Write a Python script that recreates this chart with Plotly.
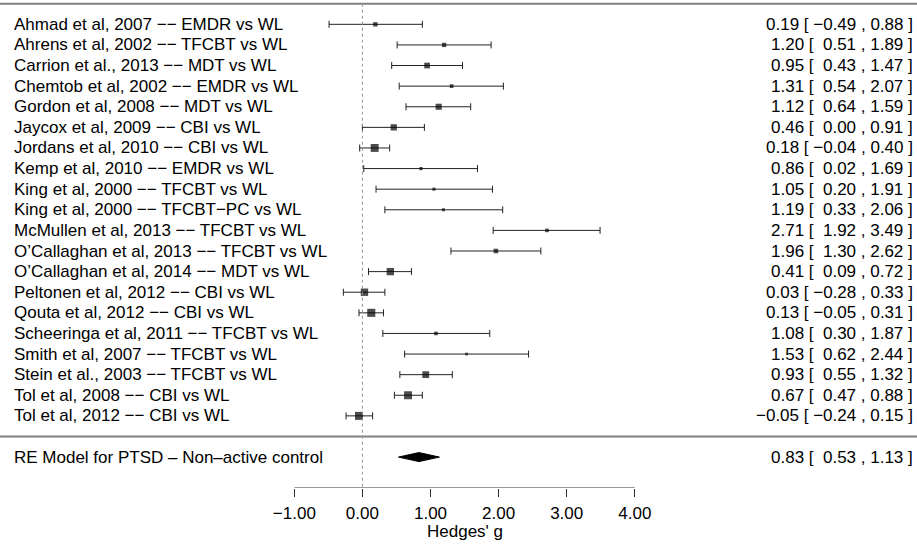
import numpy as np
import plotly.graph_objects as go

D = "\u2212\u2212"
studies = [
    f"Ahmad et al, 2007 {D} EMDR vs WL",
    f"Ahrens et al, 2002 {D} TFCBT vs WL",
    f"Carrion et al., 2013 {D} MDT vs WL",
    f"Chemtob et al, 2002 {D} EMDR vs WL",
    f"Gordon et al, 2008 {D} MDT vs WL",
    f"Jaycox et al, 2009 {D} CBI vs WL",
    f"Jordans et al, 2010 {D} CBI vs WL",
    f"Kemp et al, 2010 {D} EMDR vs WL",
    f"King et al, 2000 {D} TFCBT vs WL",
    f"King et al, 2000 {D} TFCBT\u2212PC vs WL",
    f"McMullen et al, 2013 {D} TFCBT vs WL",
    f"O\u2019Callaghan et al, 2013 {D} TFCBT vs WL",
    f"O\u2019Callaghan et al, 2014 {D} MDT vs WL",
    f"Peltonen et al, 2012 {D} CBI vs WL",
    f"Qouta et al, 2012 {D} CBI vs WL",
    f"Scheeringa et al, 2011 {D} TFCBT vs WL",
    f"Smith et al, 2007 {D} TFCBT vs WL",
    f"Stein et al., 2003 {D} TFCBT vs WL",
    f"Tol et al, 2008 {D} CBI vs WL",
    f"Tol et al, 2012 {D} CBI vs WL",
]
est = [0.19, 1.20, 0.95, 1.31, 1.12, 0.46, 0.18, 0.86, 1.05, 1.19,
       2.71, 1.96, 0.41, 0.03, 0.13, 1.08, 1.53, 0.93, 0.67, -0.05]
ci_lb = [-0.49, 0.51, 0.43, 0.54, 0.64, 0.00, -0.04, 0.02, 0.20, 0.33,
         1.92, 1.30, 0.09, -0.28, -0.05, 0.30, 0.62, 0.55, 0.47, -0.24]
ci_ub = [0.88, 1.89, 1.47, 2.07, 1.59, 0.91, 0.40, 1.69, 1.91, 2.06,
         3.49, 2.62, 0.72, 0.33, 0.31, 1.87, 2.44, 1.32, 0.88, 0.15]
model_label = "RE Model for PTSD \u2013 Non\u2013active control"
model_est, model_lb, model_ub = 0.83, 0.53, 1.13
tick_vals = [-1, 0, 1, 2, 3, 4]
x_title = "Hedges' g"

FONT = "Liberation Sans, Arial, Helvetica, sans-serif"
FS = 17

yi = np.array(est)
lb = np.array(ci_lb)
ub = np.array(ci_ub)
k = len(yi)
rows = np.arange(k, 0, -1)

# marker size from random-effects weights (DerSimonian-Laird), as metafor does
vi = ((ub - lb) / (2 * 1.96)) ** 2
wf = 1 / vi
yf = np.sum(wf * yi) / np.sum(wf)
Q = np.sum(wf * (yi - yf) ** 2)
tau2 = max(0.0, (Q - (k - 1)) / (np.sum(wf) - np.sum(wf ** 2) / np.sum(wf)))
w = 1 / (vi + tau2)
ps = w / w.sum()
ps = (ps - ps.min()) / (ps.max() - ps.min()) + 0.5
msize = ps * 5.4

def fmt(v):
    s = f"{v:.2f}"
    return s.replace("-", "\u2212")

def pad(v):
    return (" " if v >= 0 else "") + fmt(v)

def annot(e, l, u):
    return f"{fmt(e)} [ {pad(l)} , {fmt(u)} ]"

fig = go.Figure()

fig.add_trace(go.Scatter(
    x=yi, y=rows, mode="markers",
    marker=dict(symbol="square", size=msize, color="black", line=dict(width=0)),
    error_x=dict(type="data", symmetric=False, array=ub - yi, arrayminus=yi - lb,
                 width=3.5, thickness=1, color="#222222"),
    hoverinfo="skip", showlegend=False,
))

h = 0.22
fig.add_trace(go.Scatter(
    x=[model_lb, model_est, model_ub, model_est, model_lb],
    y=[-1, -1 + h, -1, -1 - h, -1],
    mode="lines", fill="toself", fillcolor="black",
    line=dict(color="black", width=1), hoverinfo="skip", showlegend=False,
))

xr = [-5.322, 8.144]
px_per = 917 / (xr[1] - xr[0])
x_left = xr[0] + 12 / px_per
x_right = xr[0] + 915 / px_per

for lab, r, e, l, u in zip(studies, rows, est, ci_lb, ci_ub):
    fig.add_annotation(x=x_left, y=r, text=lab, xanchor="left", yanchor="middle",
                       showarrow=False, font=dict(family=FONT, size=FS, color="black"))
    fig.add_annotation(x=x_right, y=r, text=annot(e, l, u), xanchor="right", yanchor="middle",
                       showarrow=False, font=dict(family=FONT, size=FS, color="black"))

fig.add_annotation(x=x_left, y=-1, text=model_label, xanchor="left", yanchor="middle",
                   showarrow=False, font=dict(family=FONT, size=FS, color="black"))
fig.add_annotation(x=x_right, y=-1, text=annot(model_est, model_lb, model_ub),
                   xanchor="right", yanchor="middle",
                   showarrow=False, font=dict(family=FONT, size=FS, color="black"))
fig.add_annotation(x=(tick_vals[0] + tick_vals[-1]) / 2, xref="x",
                   y=1 - 531 / 488, yref="paper", text=x_title,
                   xanchor="center", yanchor="middle", showarrow=False,
                   font=dict(family=FONT, size=FS, color="black"))

# horizontal rules
fig.add_shape(type="line", xref="paper", x0=0, x1=1, yref="y", y0=k + 1, y1=k + 1,
              line=dict(color="#808080", width=2))
fig.add_shape(type="line", xref="paper", x0=0, x1=1, yref="y", y0=0, y1=0,
              line=dict(color="#808080", width=2))
# reference line
fig.add_shape(type="line", x0=0, x1=0, y0=k + 1, y1=-2.5,
              line=dict(color="#909090", width=1, dash="dot"))
# axis line
fig.add_shape(type="line", x0=tick_vals[0], x1=tick_vals[-1], y0=-2.5, y1=-2.5,
              line=dict(color="#333333", width=1))

fig.update_layout(
    width=917, height=547,
    margin=dict(l=0, r=0, t=0, b=59, autoexpand=False),
    paper_bgcolor="white", plot_bgcolor="white",
    font=dict(family=FONT, size=FS, color="black"),
    xaxis=dict(range=xr, showgrid=False, zeroline=False, showline=False,
               tickvals=tick_vals, ticktext=[fmt(v) for v in tick_vals],
               ticks="outside", ticklen=8, tickcolor="#333333", tickwidth=1,
               tickfont=dict(family=FONT, size=FS, color="black"),
               ticklabelstandoff=2, fixedrange=True),
    yaxis=dict(range=[-2.5, 21.18], showgrid=False, zeroline=False, showline=False,
               showticklabels=False, ticks="", fixedrange=True),
)

fig.write_html(
    "out.html",
    config={"displayModeBar": False},
    post_script="document.body.style.margin='0';document.body.style.overflow='hidden';",
)
